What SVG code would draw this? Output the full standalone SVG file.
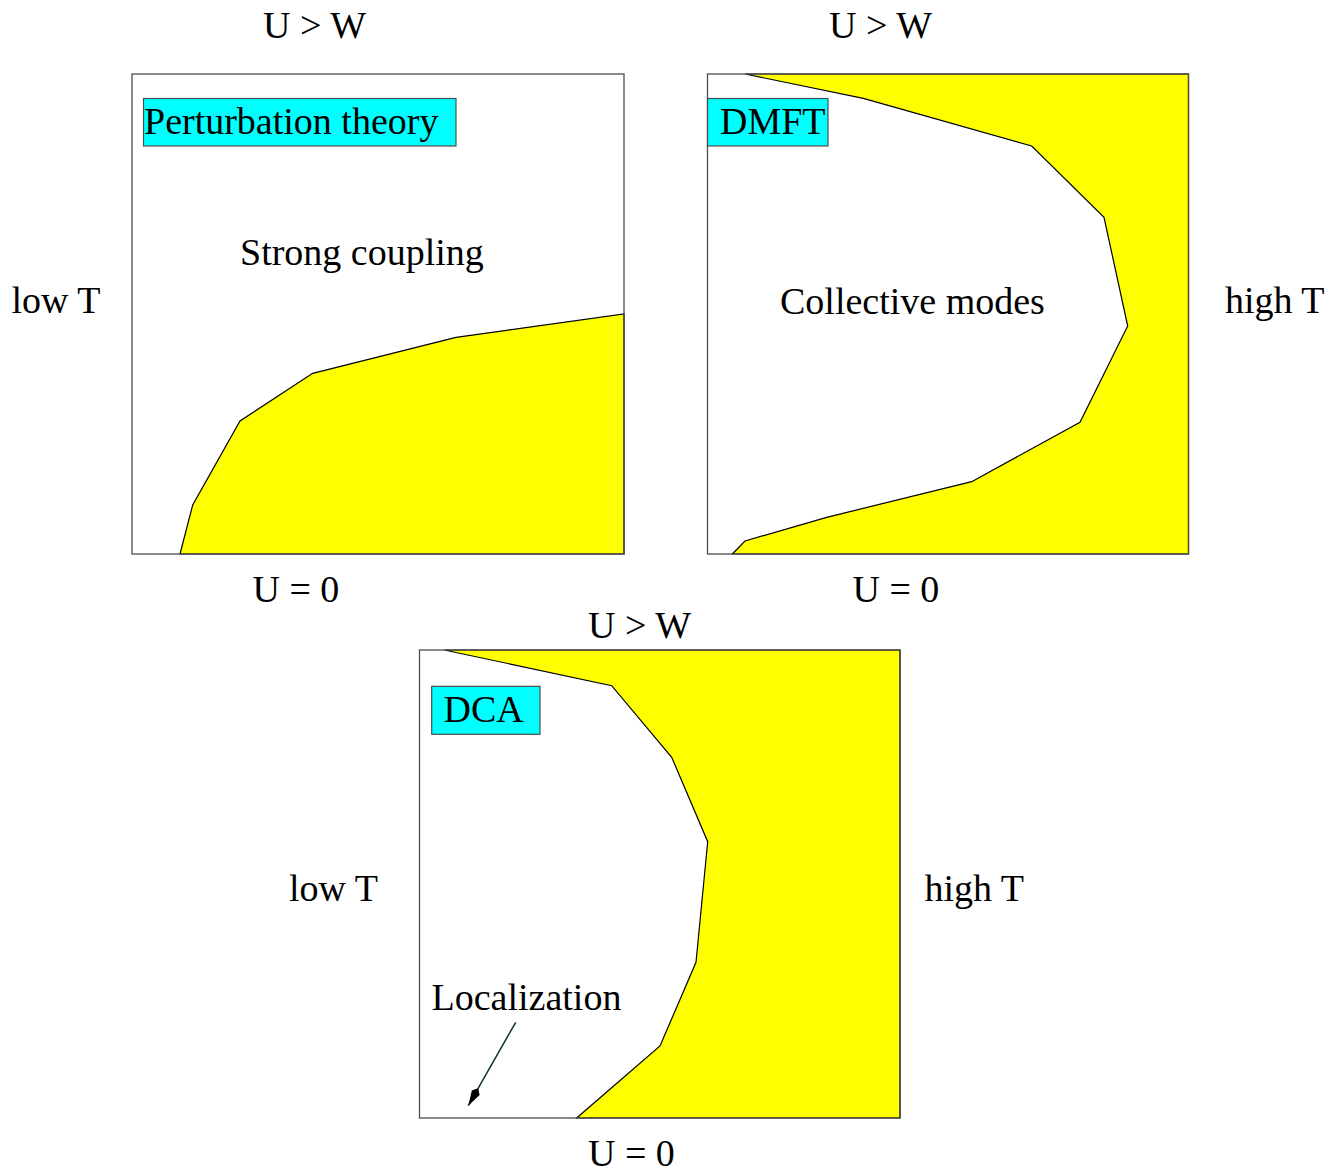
<svg xmlns="http://www.w3.org/2000/svg" width="1343" height="1173" viewBox="0 0 1343 1173">
<style>
text{font-family:"Liberation Serif","Times New Roman",serif;font-size:38px;fill:#000}
.frame{fill:none;stroke:#4d4d4d;stroke-width:1.3}
.bg{fill:#fff}
.region{fill:#ffff00;stroke:#000;stroke-width:1.2;stroke-linejoin:miter}
.tag{fill:#00ffff;stroke:#4d4d4d;stroke-width:1.2}
.conn{stroke:#0a3030;stroke-width:1.5;fill:none}
</style>
<defs>
<marker id="ah" viewBox="0 0 20 10" refX="20" refY="5" markerWidth="20" markerHeight="10" markerUnits="userSpaceOnUse" orient="auto">
<path d="M0,5 L5,0.5 L20,5 L5,9.5 Z" fill="#000"/>
</marker>
</defs>
<rect width="1343" height="1173" fill="#fff"/>

<g id="panel-perturbation">
<rect class="bg" x="132" y="74" width="492" height="480"/>
<polygon class="region" points="180,554 192.7,505 240,421 312.7,373.3 456,337.3 624,314 624,554"/>
<rect class="frame" x="132" y="74" width="492" height="480"/>
<rect class="tag" x="143.5" y="98.5" width="312.5" height="47.5"/>
<text x="144" y="133.5">Perturbation theory</text>
<text x="240" y="265">Strong coupling</text>
<text x="263" y="37.5">U &gt; W</text>
<text x="252.5" y="601.5">U = 0</text>
<text x="11.5" y="313">low T</text>
</g>

<g id="panel-dmft">
<rect class="bg" x="707.5" y="74" width="481" height="480"/>
<polygon class="region" points="745,74 863.3,98.3 1031.7,146 1104,217.3 1127.7,326 1080,422.3 971.7,481.7 826.7,517.3 745,541 732.3,554 1188.5,554 1188.5,74"/>
<rect class="frame" x="707.5" y="74" width="481" height="480"/>
<rect class="tag" x="707.5" y="98.5" width="120.5" height="47.5"/>
<text x="720" y="134">DMFT</text>
<text x="780" y="313.5">Collective modes</text>
<text x="829" y="37.5">U &gt; W</text>
<text x="852.5" y="601.5">U = 0</text>
<text x="1225" y="313">high T</text>
</g>

<g id="panel-dca">
<rect class="bg" x="419.5" y="650" width="480.5" height="468"/>
<polygon class="region" points="444.3,650 611.7,685.7 671.7,757.3 707.7,841.7 696,962.3 660,1046 576.7,1118 900,1118 900,650"/>
<rect class="frame" x="419.5" y="650" width="480.5" height="468"/>
<rect class="tag" x="431.7" y="686.3" width="108.3" height="48"/>
<text x="443.5" y="721.7">DCA</text>
<text x="431.5" y="1009.5">Localization</text>
<text x="588" y="637.5">U &gt; W</text>
<text x="588" y="1165.5">U = 0</text>
<text x="289" y="900.5">low T</text>
<text x="924.5" y="900.5">high T</text>
</g>

<g id="connectors">
<line class="conn" x1="515.7" y1="1022.3" x2="468.3" y2="1105.7" marker-end="url(#ah)"/>
</g>
</svg>
